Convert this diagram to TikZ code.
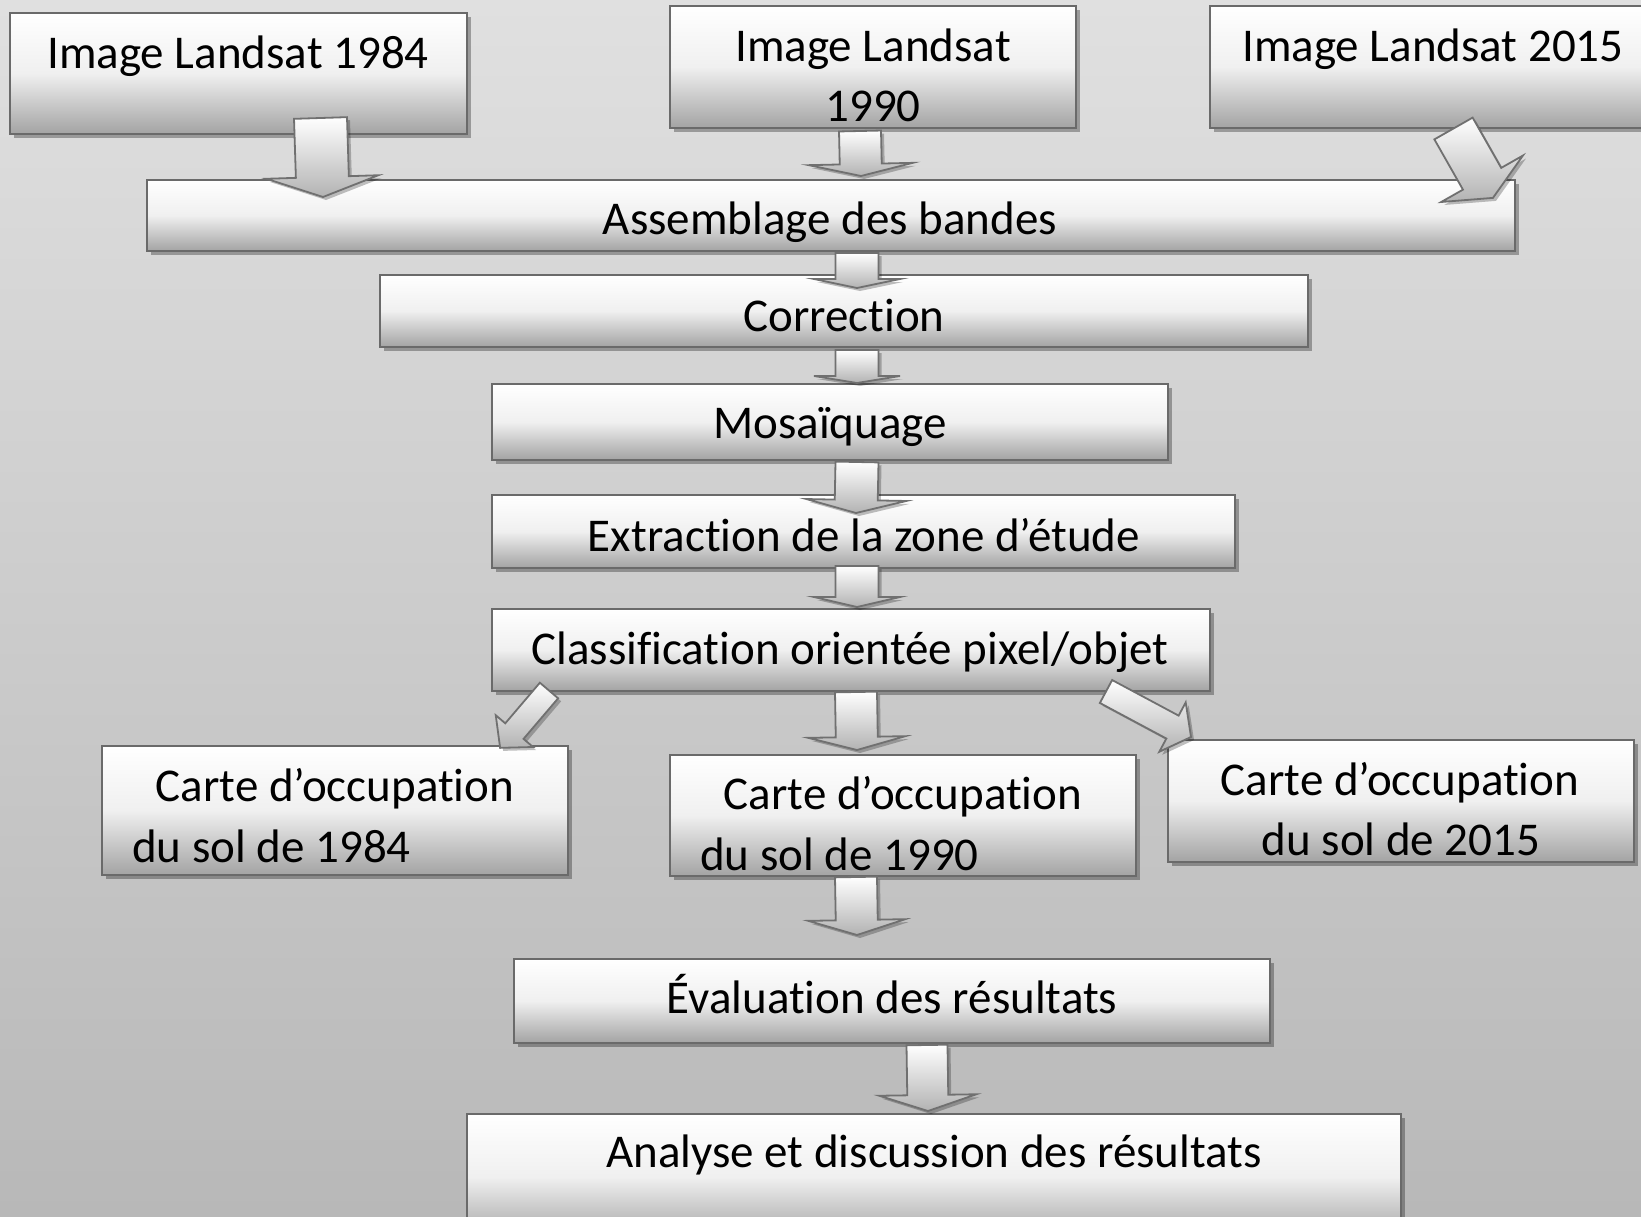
\documentclass[tikz,border=0pt]{standalone}
\usepackage{fontspec}
\setmainfont{Carlito}[Ligatures={NoCommon}]
\usetikzlibrary{calc,shadows}
\definecolor{bgtop}{HTML}{E0E0E0}
\definecolor{bgbot}{HTML}{B8B8B8}
\definecolor{edgec}{HTML}{6A6A6A}
\definecolor{arredge}{HTML}{707070}
\tikzset{
  stepbox/.style={rectangle, inner sep=0pt, draw=edgec, line width=2.5pt,
    top color=white, bottom color=gray!72, middle color=gray!12,
    drop shadow={shadow xshift=4pt, shadow yshift=-4pt, fill=black, opacity=0.3}},
  lbl/.style={inner sep=0pt, font=\fontsize{47}{56}\selectfont, anchor=base},
  arrbody/.style={draw=arredge, line width=1.8pt, line join=miter, top color=white, bottom color=gray!60},
  arrshade/.style={fill=black, opacity=0.25},
}
\newcommand\blockarrow[5]{%
  \path (#1); \pgfgetlastxy{\baX}{\baY}%
  \path (#2); \pgfgetlastxy{\bbX}{\bbY}%
  \pgfmathsetmacro\baAng{atan2(\bbY-\baY,\bbX-\baX)}%
  \pgfmathsetmacro\baLen{veclen(\bbX-\baX,\bbY-\baY)}%
  \pgfmathsetmacro\baNeck{\baLen-#5}%
  \fill[arrshade, shift={($(#1)+(3pt,-3pt)$)}, rotate=\baAng]
    (0,-#3) -- (\baNeck,-#3) -- (\baNeck,-#4) -- (\baLen,0) -- (\baNeck,#4) -- (\baNeck,#3) -- (0,#3) -- cycle;
  \path[arrbody, shift={(#1)}, rotate=\baAng]
    (0,-#3) -- (\baNeck,-#3) -- (\baNeck,-#4) -- (\baLen,0) -- (\baNeck,#4) -- (\baNeck,#3) -- (0,#3) -- cycle;
}
\begin{document}
\begin{tikzpicture}[x=1pt,y=-1pt]
\useasboundingbox (0,0) rectangle (1641,1216);
\shade[top color=bgtop, bottom color=bgbot] (0,0) rectangle (1641,1216);
\clip (0,0) rectangle (1641,1216);

% boxes
\node[stepbox, minimum width=457pt, minimum height=121pt] (l84) at (238.5,73.5) {};
\node[stepbox, minimum width=406pt, minimum height=122pt] (l90) at (873,67) {};
\node[stepbox, minimum width=450pt, minimum height=122pt] (l15) at (1435,67) {};
\node[stepbox, minimum width=1368pt, minimum height=71pt] (asm) at (831,215.5) {};
\node[stepbox, minimum width=928pt, minimum height=72pt] (cor) at (844,311) {};
\node[stepbox, minimum width=676pt, minimum height=76pt] (mos) at (830,422) {};
\node[stepbox, minimum width=743pt, minimum height=73pt] (ext) at (863.5,531.5) {};
\node[stepbox, minimum width=718pt, minimum height=82pt] (cls) at (851,650) {};
\node[stepbox, minimum width=466pt, minimum height=129pt] (c84) at (335,810.5) {};
\node[stepbox, minimum width=466pt, minimum height=121pt] (c90) at (903,815.5) {};
\node[stepbox, minimum width=466pt, minimum height=122pt] (c15) at (1401,801) {};
\node[stepbox, minimum width=756pt, minimum height=84pt] (eva) at (892,1001) {};
\node[stepbox, minimum width=934pt, minimum height=126pt] (ana) at (934,1177) {};

% texts
\node[lbl] (t84) at (238,68) {Image Landsat 1984};
\node[lbl] (t90a) at (873,61) {Image Landsat};
\node[lbl] (t90b) at (873,121) {1990};
\node[lbl, anchor=base west] (t15) at (1242,61) {Image Landsat 2015};
\node[lbl] (tasm) at (830,234) {Assemblage des bandes};
\node[lbl] (tcor) at (844,331) {Correction};
\node[lbl] (tmos) at (830,438) {Mosaïquage};
\node[lbl] (txext) at (864,551) {Extraction de la zone d’étude};
\node[lbl] (tcls) at (850,664) {Classification orientée pixel/objet};
\node[lbl] (tc84a) at (335,801) {Carte d’occupation};
\node[lbl, anchor=base west] (tc84b) at (132,862) {du sol de 1984};
\node[lbl] (tc90a) at (903,809) {Carte d’occupation};
\node[lbl, anchor=base west] (tc90b) at (700,870) {du sol de 1990};
\node[lbl] (tc15a) at (1400,795) {Carte d’occupation};
\node[lbl] (tc15b) at (1401,855) {du sol de 2015};
\node[lbl] (teva) at (892,1013) {Évaluation des résultats};
\node[lbl] (tana) at (934,1167) {Analyse et discussion des résultats};

% block arrows
\coordinate (a1s) at (320.5,118);  \coordinate (a1e) at (323,197);
\coordinate (a2s) at (860,131);    \coordinate (a2e) at (861,176);
\coordinate (a3s) at (1453.5,128.5); \coordinate (a3e) at (1493,198);
\coordinate (a4s) at (857,253);    \coordinate (a4e) at (857,288);
\coordinate (a5s) at (857,350);    \coordinate (a5e) at (857,383);
\coordinate (a6s) at (857,462);    \coordinate (a6e) at (856,513);
\coordinate (a7s) at (857,566);    \coordinate (a7e) at (857,607);
\coordinate (a8s) at (549,690.5);  \coordinate (a8e) at (500,748);
\coordinate (a9s) at (856,692);    \coordinate (a9e) at (857,750);
\coordinate (a10s) at (1106,691.5); \coordinate (a10e) at (1191,737);
\coordinate (a11s) at (856,877);   \coordinate (a11e) at (857,935);
\coordinate (a12s) at (927,1045);  \coordinate (a12e) at (928,1111);

\blockarrow{a1s}{a1e}{26.5}{56}{20}
\blockarrow{a2s}{a2e}{21}{52}{12}
\blockarrow{a3s}{a3e}{22}{47}{22}
\blockarrow{a4s}{a4e}{21.5}{43}{9}
\blockarrow{a5s}{a5e}{21.5}{43}{7}
\blockarrow{a6s}{a6e}{21.5}{50}{13}
\blockarrow{a7s}{a7e}{21.5}{43}{10}
\blockarrow{a8s}{a8e}{12}{24.5}{22}
\blockarrow{a9s}{a9e}{21}{48.5}{13}
\blockarrow{a10s}{a10e}{13}{28}{21}
\blockarrow{a11s}{a11e}{21}{48.5}{15}
\blockarrow{a12s}{a12e}{20.5}{48.5}{16}
\end{tikzpicture}
\end{document}
